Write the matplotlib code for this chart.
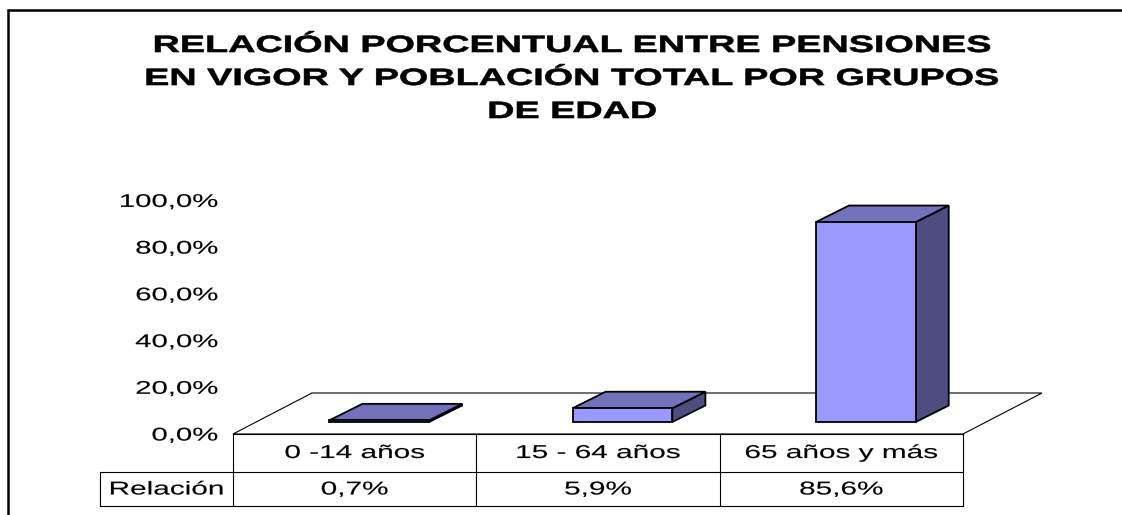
import matplotlib
matplotlib.use('Agg')
import numpy as np
import matplotlib.pyplot as plt
from matplotlib.patches import Polygon
from matplotlib.lines import Line2D
from matplotlib.transforms import Affine2D, blended_transform_factory
from matplotlib.patheffects import AbstractPathEffect

# ---------------- data ----------------
categories = ["0 -14 años", "15 - 64 años", "65 años y más"]
values = [0.7, 5.9, 85.6]
series_name = "Relación"
yticks = [0, 20, 40, 60, 80, 100]
title_lines = ["RELACIÓN PORCENTUAL ENTRE PENSIONES",
               "EN VIGOR Y POBLACIÓN TOTAL POR GRUPOS",
               "DE EDAD"]

# ---------------- style ----------------
plt.rcParams['font.family'] = ['Liberation Sans', 'DejaVu Sans']
FRONT = '#9999FF'
TOP = '#7171BC'
SIDE = '#4D4D80'
STRETCH = 1.6

W, H, DPI = 1122, 515, 100
fig = plt.figure(figsize=(W / DPI, H / DPI), dpi=DPI)
fig.patch.set_facecolor('white')


class StretchX(AbstractPathEffect):
    """Widen glyphs horizontally (the reference image is horizontally stretched)."""
    def __init__(self, sx, anchor='center', stroke=0.0):
        super().__init__()
        self.sx = sx
        self.anchor = anchor
        self.stroke = stroke

    def draw_path(self, renderer, gc, tpath, affine, rgbFace=None):
        ext = affine.transform_path(tpath).get_extents()
        if self.anchor == 'right':
            x0 = ext.x1
        elif self.anchor == 'left':
            x0 = ext.x0
        else:
            x0 = 0.5 * (ext.x0 + ext.x1)
        t = affine + Affine2D().translate(-x0, 0).scale(self.sx, 1).translate(x0, 0)
        gc0 = renderer.new_gc()
        gc0.copy_properties(gc)
        if self.stroke > 0 and rgbFace is not None:
            gc0.set_linewidth(self.stroke)
            gc0.set_foreground(rgbFace)
        else:
            gc0.set_linewidth(0)
        renderer.draw_path(gc0, tpath, t, rgbFace)
        gc0.restore()


def pct(v):
    return f"{v:.1f}".replace('.', ',') + '%'


# main axes: x = category index, y = percentage (front plane)
ax = fig.add_axes([233 / W, 1 - 434 / H, 730 / W, 233.6 / H])
ax.set_xlim(0, len(categories))
ax.set_ylim(0, 100)
ax.patch.set_visible(False)
for s in ax.spines.values():
    s.set_visible(False)
ax.set_xticks([])
ax.set_yticks(yticks, [pct(v) for v in yticks])
ax.tick_params(axis='y', length=0, pad=10.8, labelsize=13.2)
for tk in ax.yaxis.get_major_ticks():
    tk.label1.set_path_effects([StretchX(STRETCH, 'right', stroke=0.1)])

# pixel-space helpers
pix = Affine2D().scale(1, -1).translate(0, H)          # pixel-from-top -> display
bx = blended_transform_factory(ax.transData, pix)      # x data, y pixel-from-top
figpix = pix


def off(pts, dx, dy):
    """offset data points by (dx right, dy up) display pixels"""
    d = ax.transData.transform(np.asarray(pts, float)) + np.array([dx, dy])
    return ax.transData.inverted().transform(d)


n = len(categories)
# floor
FD = (79, 41)
floor = [(0, 0), (n, 0)]
floor_poly = list(floor) + list(off(floor[::-1], *FD))
ax.add_patch(Polygon(floor_poly, closed=True, facecolor='white', edgecolor='black',
                     lw=0.8, clip_on=False, zorder=1))

# bars
BF = (24.5, 12)      # front face offset inside the floor
BD = (33, 16.5)      # bar depth
bw = 0.41
for i, v in enumerate(values):
    x0, x1 = i + 0.5 - bw / 2, i + 0.5 + bw / 2
    front = off([(x0, 0), (x1, 0), (x1, v), (x0, v)], *BF)
    topf = off([(x0, v), (x1, v)], *BF)
    topb = off([(x1, v), (x0, v)], BF[0] + BD[0], BF[1] + BD[1])
    sidef = off([(x1, 0), (x1, v)], *BF)
    sideb = off([(x1, v), (x1, 0)], BF[0] + BD[0], BF[1] + BD[1])
    kw = dict(closed=True, edgecolor='black', lw=1.3, joinstyle='miter',
              clip_on=False, zorder=3)
    ax.add_patch(Polygon(list(sidef) + list(sideb), facecolor=SIDE, **kw))
    ax.add_patch(Polygon(list(topf) + list(topb), facecolor=TOP, **kw))
    ax.add_patch(Polygon(front, facecolor=FRONT, **kw))

# data table
ROW1_TOP, ROW1_BOT, ROW2_BOT = 434, 472, 506
HDR_LEFT = 100
tl = dict(color='black', lw=0.8, clip_on=False, zorder=4)
ax.add_line(Line2D([0, n], [ROW1_TOP, ROW1_TOP], transform=bx, **tl))
ax.add_line(Line2D([0, n], [ROW1_BOT, ROW1_BOT], transform=bx, **tl))
ax.add_line(Line2D([0, n], [ROW2_BOT, ROW2_BOT], transform=bx, **tl))
for k in range(n + 1):
    ax.add_line(Line2D([k, k], [ROW1_TOP, ROW2_BOT], transform=bx, **tl))
# header cell
x_axes_left = 233
ax.add_line(Line2D([HDR_LEFT, x_axes_left], [ROW1_BOT, ROW1_BOT], transform=figpix, **tl))
ax.add_line(Line2D([HDR_LEFT, x_axes_left], [ROW2_BOT, ROW2_BOT], transform=figpix, **tl))
ax.add_line(Line2D([HDR_LEFT, HDR_LEFT], [ROW1_BOT, ROW2_BOT], transform=figpix, **tl))

tx = dict(ha='center', va='center', fontsize=13.4, color='black', clip_on=False,
          path_effects=[StretchX(STRETCH, stroke=0.1)])
for i, (c, v) in enumerate(zip(categories, values)):
    ax.text(i + 0.5, (ROW1_TOP + ROW1_BOT) / 2 + 0.5, c, transform=bx, **tx)
    ax.text(i + 0.5, (ROW1_BOT + ROW2_BOT) / 2 + 1, pct(v), transform=bx, **tx)
ax.text((HDR_LEFT + x_axes_left) / 2, (ROW1_BOT + ROW2_BOT) / 2 + 1, series_name,
        transform=figpix, **tx)

# title
for j, line in enumerate(title_lines):
    fig.text(572.5 / W, 1 - (52 + 33 * j) / H, line, ha='center', va='baseline',
             fontsize=17, fontweight='bold', color='black',
             path_effects=[StretchX(STRETCH, stroke=0.45)])

# chart area frame (left and top edges visible)
fig.add_artist(Line2D([8 / W, 8 / W, 1.0], [0.0, 1 - 10 / H, 1 - 10 / H],
                      transform=fig.transFigure, color='black', lw=1.8,
                      solid_joinstyle='miter'))

fig.savefig('out.png', dpi=DPI, facecolor='white')
